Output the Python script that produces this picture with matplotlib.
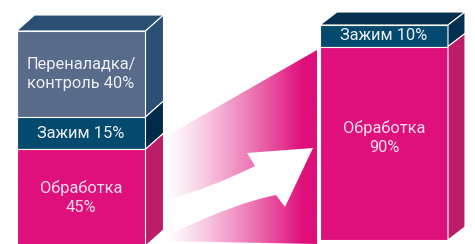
import numpy as np
import matplotlib
matplotlib.use("Agg")
from matplotlib import pyplot as plt
from matplotlib.patches import Rectangle, Polygon, PathPatch
from matplotlib.path import Path
from matplotlib.colors import to_rgb

# values, listed from the top of each box downward
before_labels = ['Переналадка/\nконтроль 40%', 'Зажим 15%', 'Обработка\n45%']
before_values = [40, 15, 45]
before_front = ['#596b8a', '#044a6e', '#df0f7b']
before_side = ['#2b5073', '#012a48', '#bd1c66']
before_text = ['#eef0f5', '#eef0f5', '#fbe0ee']

after_labels = ['Зажим 10%', 'Обработка\n90%']
after_values = [10, 90]
after_front = ['#044a6e', '#df0f7b']
after_side = ['#03304f', '#bd1c66']
after_text = ['#eef0f5', '#fbe0ee']

MAGENTA = '#df0f7b'
PX_PER_PCT = 2.15

plt.rcParams['font.family'] = ['Roboto', 'DejaVu Sans']


def draw_box(ax, x0, width, top, dx, dy, values, labels, fronts, sides, tcolors):
    y = top
    # top face
    top_face = Polygon([(x0, y), (x0 + dx, y + dy), (x0 + width + dx, y + dy), (x0 + width, y)],
                       closed=True, facecolor=sides[0], edgecolor='white', lw=0.8, zorder=2)
    ax.add_patch(top_face)
    for val, lab, fc, sc, tc in zip(values, labels, fronts, sides, tcolors):
        h = val * PX_PER_PCT
        ax.add_patch(Rectangle((x0, y), width, h, facecolor=fc, edgecolor='white', lw=0.8, zorder=2))
        side = Polygon([(x0 + width, y), (x0 + width + dx, y + dy),
                        (x0 + width + dx, y + h + dy), (x0 + width, y + h)],
                       closed=True, facecolor=sc, edgecolor='white', lw=0.8, zorder=2)
        ax.add_patch(side)
        yc = min(y + h / 2, (y + 244) / 2 + 5)
        if val == 90:
            yc -= 6
        ax.text(x0 + width / 2, yc, lab, ha='center', va='center', color=tc,
                fontsize=11.8, fontweight='normal', linespacing=1.3, zorder=4)
        y += h


fig = plt.figure(figsize=(4.75, 2.44), dpi=100)
ax = fig.add_axes([0, 0, 1, 1])
ax.set_xlim(0, 475)
ax.set_ylim(244, 0)
ax.axis('off')

draw_box(ax, 16.5, 129, 31, 18, -16, before_values, before_labels, before_front, before_side, before_text)
draw_box(ax, 320, 128, 25, 17, -13, after_values, after_labels, after_front, after_side, after_text)

# gradient band between the boxes
band = Polygon([(165, 137), (317, 50), (317, 244), (165, 241)], closed=True,
               facecolor='none', edgecolor='none')
ax.add_patch(band)
t = np.clip(np.linspace(0, 1.1, 300), 0, 1) ** 1.2
c0 = np.array(to_rgb('white'))
c1 = np.array(to_rgb(MAGENTA))
grad = (c0[None, :] * (1 - t[:, None]) + c1[None, :] * t[:, None])[None, :, :]
im = ax.imshow(grad, extent=(165, 317, 244, 50), aspect='auto', zorder=1, interpolation='bilinear')
im.set_clip_path(band)
ax.set_xlim(0, 475)
ax.set_ylim(244, 0)

# curved white arrow
verts = [(167, 200), (213, 187), (255, 166), (247, 153), (313, 148), (285, 207),
         (276, 195), (235, 203), (173, 233), (167, 200)]
codes = [Path.MOVETO, Path.CURVE3, Path.CURVE3, Path.LINETO, Path.LINETO, Path.LINETO,
         Path.LINETO, Path.CURVE3, Path.CURVE3, Path.CLOSEPOLY]
ax.add_patch(PathPatch(Path(verts, codes), facecolor='white', edgecolor='none', zorder=3))

fig.savefig('out.png', dpi=100)
